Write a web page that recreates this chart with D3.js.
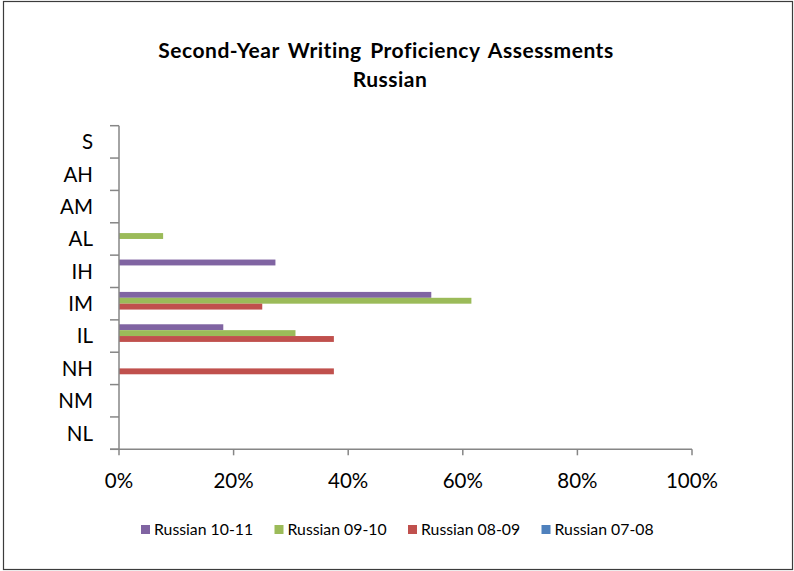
<!DOCTYPE html>
<html>
<head>
<meta charset="utf-8">
<script src="https://cdn.jsdelivr.net/npm/d3@7"></script>
<style>
  html, body { margin: 0; padding: 0; background: #fff; }
  svg { display: block; font-family: Lato, "Open Sans", sans-serif; }
</style>
</head>
<body>
<svg id="chart" width="794" height="571"></svg>
<script>
// ---- data ----
const titleLines = ["Second-Year Writing Proficiency Assessments", "Russian"];
const categories = ["S", "AH", "AM", "AL", "IH", "IM", "IL", "NH", "NM", "NL"];
const seriesNames = ["Russian 10-11", "Russian 09-10", "Russian 08-09", "Russian 07-08"];
const seriesColors = ["#8064A2", "#9BBB59", "#C0504D", "#4F81BD"];
const russian1011 = [0, 0, 0, 0, 0.273, 0.545, 0.182, 0, 0, 0];
const russian0910 = [0, 0, 0, 0.077, 0, 0.615, 0.308, 0, 0, 0];
const russian0809 = [0, 0, 0, 0, 0, 0.25, 0.375, 0.375, 0, 0];
const russian0708 = [0, 0, 0, 0, 0, 0, 0, 0, 0, 0];
const xTicks = [0, 0.2, 0.4, 0.6, 0.8, 1.0];

const seriesValues = [russian1011, russian0910, russian0809, russian0708];

const svg = d3.select("#chart");

// border
svg.append("rect")
  .attr("x", 3.5).attr("y", 1.5)
  .attr("width", 789).attr("height", 568)
  .attr("fill", "none").attr("stroke", "#3c3c3c").attr("stroke-width", 1.2);

// title
const title = svg.append("text")
  .attr("text-anchor", "middle")
  .attr("font-weight", "bold")
  .attr("font-size", 21)
  .attr("letter-spacing", 0.5)
  .attr("word-spacing", 3)
  .attr("fill", "#000");
title.append("tspan").attr("x", 386).attr("y", 57.5).text(titleLines[0]);
title.append("tspan").attr("x", 390).attr("y", 87).text(titleLines[1]);

// scales
const x = d3.scaleLinear().domain([0, 1]).range([119, 692]);
const y = d3.scaleBand().domain(categories).range([125.7, 449.3]).padding(0);
const inner = d3.scaleBand().domain(seriesNames).range([0, y.bandwidth()])
  .paddingInner(0).paddingOuter(0.75);

// bars
seriesNames.forEach((name, si) => {
  svg.append("g").selectAll("rect")
    .data(categories.map((c, ci) => ({ c, v: seriesValues[si][ci] })))
    .join("rect")
    .attr("x", x(0))
    .attr("y", d => y(d.c) + inner(name))
    .attr("width", d => x(d.v) - x(0))
    .attr("height", inner.bandwidth())
    .attr("fill", seriesColors[si]);
});

const axisColor = "#868686";

// y axis
const yAxis = svg.append("g").attr("transform", `translate(${x(0)},0)`);
yAxis.append("line")
  .attr("x1", 0).attr("x2", 0)
  .attr("y1", y.range()[0]).attr("y2", y.range()[1])
  .attr("stroke", axisColor).attr("stroke-width", 1.5);
const yTickPos = categories.map(c => y(c)).concat([y.range()[1]]);
yAxis.selectAll("line.tick")
  .data(yTickPos)
  .join("line").attr("class", "tick")
  .attr("x1", -9).attr("x2", 0)
  .attr("y1", d => d).attr("y2", d => d)
  .attr("stroke", axisColor).attr("stroke-width", 1.5);
yAxis.selectAll("text")
  .data(categories)
  .join("text")
  .attr("x", -26)
  .attr("y", d => y(d) + y.bandwidth() / 2)
  .attr("dy", "0.36em")
  .attr("text-anchor", "end")
  .attr("font-size", 20.5)
  .attr("fill", "#000")
  .text(d => d);

// x axis
const xAxisG = svg.append("g").attr("transform", `translate(0,${y.range()[1]})`);
xAxisG.append("line")
  .attr("x1", x(0) - 9).attr("x2", x(1))
  .attr("y1", 0).attr("y2", 0)
  .attr("stroke", axisColor).attr("stroke-width", 1.5);
xAxisG.selectAll("line.tick")
  .data(xTicks)
  .join("line").attr("class", "tick")
  .attr("x1", d => x(d)).attr("x2", d => x(d))
  .attr("y1", 0).attr("y2", 6)
  .attr("stroke", axisColor).attr("stroke-width", 1.5);
xAxisG.selectAll("text")
  .data(xTicks)
  .join("text")
  .attr("x", d => x(d))
  .attr("y", 39)
  .attr("text-anchor", "middle")
  .attr("font-size", 20.5)
  .attr("fill", "#000")
  .text(d3.format(".0%"));

// legend
const legendX = d3.scalePoint().domain(seriesNames).range([141, 541.5]);
const legend = svg.append("g");
const items = legend.selectAll("g")
  .data(seriesNames)
  .join("g")
  .attr("transform", d => `translate(${legendX(d)},525)`);
items.append("rect")
  .attr("width", 9).attr("height", 9)
  .attr("fill", (d, i) => seriesColors[i]);
items.append("text")
  .attr("x", 13).attr("y", 10)
  .attr("font-size", 15.8)
  .attr("fill", "#000")
  .text(d => d);
</script>
</body>
</html>
